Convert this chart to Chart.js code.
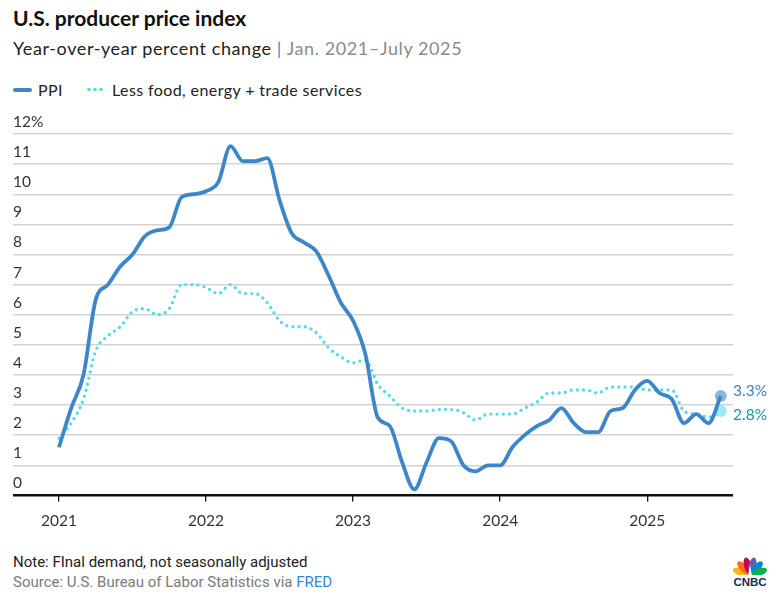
<!DOCTYPE html>
<html>
<head>
<meta charset="utf-8">
<script src="https://cdn.jsdelivr.net/npm/chart.js@4.4.1/dist/chart.umd.min.js"></script>
<style>
  body { margin: 0; background: #fff; font-family: Lato, "Noto Sans", sans-serif; }
  #page { position: relative; width: 779px; height: 604px; overflow: hidden; }
  .title { position: absolute; left: 13px; top: 5px; font-size: 21px; font-weight: 700; color: #111; }
  .sub { position: absolute; left: 13px; top: 37px; font-size: 18px; letter-spacing: 0.6px; color: #222; white-space: nowrap; }
  .sub .bar { color: #3a8bd6; }
  .sub .range { color: #8a8a8a; }
  .legend { position: absolute; left: 13px; top: 80px; font-size: 16px; letter-spacing: 0.4px; color: #222; white-space: nowrap; }
  .sw-line { position: absolute; left: 0; top: 8px; width: 19px; height: 4px; border-radius: 2px; background: #3d86c9; }
  .sw-dots { position: absolute; left: 73px; top: 7px; width: 17px; height: 5px;
    background: radial-gradient(circle, #56dbea 1.6px, transparent 1.9px) 0 0 / 6px 5px repeat-x; }
  .lg1 { position: absolute; left: 25px; top: 0; }
  .lg2 { position: absolute; left: 99px; top: 0; }
  #wrap { position: absolute; left: 0; top: 100px; width: 779px; height: 440px; }
  .note { position: absolute; left: 13px; top: 553px; font-family: Roboto, sans-serif; font-size: 15px; color: #222; }
  .source { position: absolute; left: 13px; top: 573px; font-family: Roboto, sans-serif; font-size: 15px; color: #7a7a7a; }
  .source a { color: #2f8ad4; text-decoration: none; }
  #logo { position: absolute; left: 729px; top: 553px; }
</style>
</head>
<body>
<div id="page">
  <div class="title">U.S. producer price index</div>
  <div class="sub">Year-over-year percent change <span class="bar">|</span> <span class="range">Jan. 2021–July 2025</span></div>
  <div class="legend">
    <span class="sw-line"></span><span class="lg1">PPI</span>
    <span class="sw-dots"></span><span class="lg2">Less food, energy + trade services</span>
  </div>
  <div id="wrap"><canvas id="ppiChart" width="779" height="440"></canvas></div>
  <div class="note">Note: FInal demand, not seasonally adjusted</div>
  <div class="source">Source: U.S. Bureau of Labor Statistics via <a>FRED</a></div>
  <svg id="logo" width="42" height="36" viewBox="0 0 42 36">
    <g transform="translate(21,22)">
      <ellipse cx="0" cy="-9.6" rx="3.7" ry="8.4" fill="#fcb711" transform="rotate(-72)"/>
      <ellipse cx="0" cy="-9.6" rx="3.7" ry="8.4" fill="#f37021" transform="rotate(-43)"/>
      <ellipse cx="0" cy="-9.6" rx="3.7" ry="8.4" fill="#cc004c" transform="rotate(-14)"/>
      <ellipse cx="0" cy="-9.6" rx="3.7" ry="8.4" fill="#6460aa" transform="rotate(14)"/>
      <ellipse cx="0" cy="-9.6" rx="3.7" ry="8.4" fill="#0089d0" transform="rotate(43)"/>
      <ellipse cx="0" cy="-9.6" rx="3.7" ry="8.4" fill="#0db14b" transform="rotate(72)"/>
      <path d="M-1.8 0 L0 -10 L1.8 0 Z" fill="#fff"/>
      <rect x="-18" y="0" width="36" height="3" fill="#fff"/>
    </g>
    <text x="21" y="33" text-anchor="middle" font-family="Liberation Sans, Arial, sans-serif" font-weight="700" font-size="11.5" fill="#1b2a57">CNBC</text>
  </svg>
</div>

<script>
// Month index 0 = Jan 2021 ... 54 = July 2025
const yearLabels = ['2021', '2022', '2023', '2024', '2025'];
const yearTicks = [0, 12, 24, 36, 48];
const yTicks = [0, 1, 2, 3, 4, 5, 6, 7, 8, 9, 10, 11, 12];

const ppi = [
  1.6, 2.9, 4.0, 6.5, 7.0, 7.6, 8.0, 8.6, 8.8, 8.9, 9.9, 10.0,
  10.1, 10.4, 11.6, 11.1, 11.1, 11.2, 9.8, 8.7, 8.4, 8.1, 7.3, 6.4,
  5.8, 4.7, 2.6, 2.3, 1.1, 0.2, 1.1, 1.9, 1.8, 1.0, 0.8, 1.0,
  1.0, 1.6, 2.0, 2.3, 2.5, 2.9, 2.4, 2.1, 2.1, 2.8, 2.9, 3.5,
  3.8, 3.4, 3.2, 2.4, 2.7, 2.4, 3.3
];

const coreLessTrade = [
  1.9, 2.4, 3.2, 4.8, 5.3, 5.6, 6.1, 6.2, 6.0, 6.2, 7.0, 7.0,
  6.9, 6.7, 7.0, 6.7, 6.7, 6.4, 5.8, 5.6, 5.6, 5.4, 4.9, 4.6,
  4.4, 4.5, 3.7, 3.3, 2.9, 2.8, 2.8, 2.85, 2.85, 2.75, 2.5, 2.7,
  2.7, 2.7, 2.9, 3.1, 3.4, 3.4, 3.5, 3.5, 3.4, 3.6, 3.6, 3.6,
  3.5, 3.5, 3.5, 2.8, 2.7, 2.6, 2.8
];

const endLabels = ['3.3%', '2.8%'];

function toPoints(arr) {
  return arr.map((v, i) => ({ x: i, y: v }));
}

const lastIdx = ppi.length - 1;
const endRadius = ctx => ctx.dataIndex === lastIdx ? 6 : 0;

// Draw the value labels next to the last points
const endLabelPlugin = {
  id: 'endLabels',
  afterDatasetsDraw(chart) {
    const c = chart.ctx;
    const colors = ['#3b7fc6', '#139a9c'];
    const shifts = [-5, 4];
    c.save();
    c.font = '15.5px Lato, sans-serif';
    c.textBaseline = 'middle';
    c.textAlign = 'left';
    chart.data.datasets.forEach((ds, i) => {
      const pt = chart.getDatasetMeta(i).data[lastIdx];
      c.fillStyle = colors[i];
      c.fillText(endLabels[i], chart.chartArea.right, pt.y + shifts[i]);
    });
    c.restore();
  }
};

new Chart(document.getElementById('ppiChart'), {
  type: 'line',
  data: {
    datasets: [
      {
        label: 'PPI',
        data: toPoints(ppi),
        borderColor: '#3d86c9',
        borderWidth: 3.8,
        cubicInterpolationMode: 'monotone',
        pointRadius: endRadius,
        pointHoverRadius: endRadius,
        pointBackgroundColor: 'rgba(61,134,201,0.6)',
        pointBorderWidth: 0,
        order: 1
      },
      {
        label: 'Less food, energy + trade services',
        data: toPoints(coreLessTrade),
        borderColor: '#56dbea',
        borderWidth: 3.4,
        borderDash: [0, 6.2],
        borderCapStyle: 'round',
        cubicInterpolationMode: 'monotone',
        pointRadius: endRadius,
        pointHoverRadius: endRadius,
        pointBackgroundColor: 'rgba(120,228,240,0.75)',
        pointBorderWidth: 0,
        order: 2
      }
    ]
  },
  options: {
    responsive: false,
    animation: false,
    layout: { padding: { left: 13, right: 46, top: 34, bottom: 0 } },
    plugins: {
      legend: { display: false },
      tooltip: { enabled: false }
    },
    scales: {
      x: {
        type: 'linear',
        min: -3.75,
        max: 55,
        afterBuildTicks: scale => { scale.ticks = yearTicks.map(v => ({ value: v })); },
        grid: { drawOnChartArea: false, drawTicks: true, tickLength: 6, color: '#111', lineWidth: 1.3 },
        border: { display: false },
        ticks: {
          padding: 10,
          color: '#333',
          font: { family: 'Lato', size: 15.5 },
          maxRotation: 0,
          callback: v => yearLabels[yearTicks.indexOf(v)]
        }
      },
      y: {
        min: 0,
        max: 12,
        afterBuildTicks: scale => { scale.ticks = yTicks.map(v => ({ value: v })); },
        grid: {
          drawTicks: false,
          tickLength: 0,
          color: c => c.tick.value === 0 ? '#111' : '#d3d3d3',
          lineWidth: c => c.tick.value === 0 ? 2.6 : 1.4
        },
        border: { display: false },
        ticks: {
          mirror: true,
          padding: 0,
          labelOffset: -12,
          color: '#333',
          font: { family: 'Lato', size: 15.5 },
          callback: v => v === 12 ? '12%' : String(v)
        }
      }
    }
  },
  plugins: [endLabelPlugin]
});
</script>
</body>
</html>
